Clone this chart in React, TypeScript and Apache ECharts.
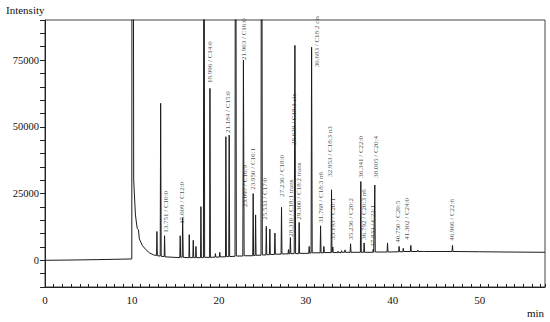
import { useEffect, useRef } from "react";
import * as echarts from "echarts";

// Chromatogram trace: [retention time (min), intensity]
const trace: [number, number][] = [
  [0, 0], [3, 100], [6, 250], [9.98, 500],
  [10.05, 400000], [10.2, 30000], [10.4, 17000], [10.6, 12000], [10.75, 11400], [10.85, 8000],
  [11.2, 5500], [11.6, 4000], [12.0, 2800], [12.5, 2000],
  [12.83, 1800], [12.87, 10800], [12.92, 1700],
  [13.25, 1600], [13.3, 58800], [13.36, 1500],
  [13.71, 1400], [13.75, 9200], [13.8, 1300],
  [15.5, 1000], [15.55, 9200], [15.6, 1200], [15.78, 1200], [15.83, 15800], [15.9, 1100],
  [16.55, 1000], [16.59, 9600], [16.64, 1000],
  [17.0, 1000], [17.05, 7500], [17.1, 1000],
  [17.32, 1000], [17.36, 5200], [17.41, 1000],
  [17.89, 1000], [17.93, 20100], [17.98, 1000],
  [18.22, 1000], [18.28, 200000], [18.36, 1100],
  [18.93, 1100], [18.97, 64400], [19.02, 1100],
  [19.55, 1200], [19.6, 2500], [19.65, 1200],
  [20.05, 1200], [20.1, 3000], [20.15, 1300],
  [20.76, 1300], [20.8, 46300], [20.86, 1400],
  [21.13, 1400], [21.18, 46900], [21.24, 1400],
  [21.85, 1500], [21.92, 250000], [22.0, 1600],
  [22.75, 1600], [22.82, 75000], [22.9, 1700],
  [23.89, 1700], [23.94, 25000], [23.99, 1800],
  [24.17, 1800], [24.22, 17000], [24.27, 1900],
  [24.84, 1900], [24.91, 250000], [24.99, 2000],
  [25.4, 2000], [25.45, 12700], [25.5, 2100],
  [25.81, 2100], [25.86, 11700], [25.91, 2200],
  [26.39, 2200], [26.44, 10200], [26.49, 2300],
  [27.15, 2300], [27.2, 19900], [27.25, 2400],
  [27.95, 2400], [28.0, 4000], [28.05, 2400],
  [28.16, 2400], [28.22, 8500], [28.27, 2500],
  [28.66, 2500], [28.74, 80500], [28.82, 2500],
  [29.18, 2500], [29.23, 14200], [29.28, 2600],
  [30.33, 2600], [30.38, 5200], [30.43, 2700],
  [30.6, 2700], [30.66, 79800], [30.73, 2800],
  [31.64, 2800], [31.69, 12900], [31.74, 2800],
  [32.02, 2800], [32.07, 5200], [32.12, 2900],
  [32.9, 2900], [32.95, 26400], [33.0, 2900],
  [33.06, 2900], [33.1, 5000], [33.15, 2900],
  [33.65, 2900], [33.7, 3400], [33.75, 2900],
  [34.05, 2900], [34.1, 3600], [34.15, 3000],
  [34.45, 3000], [34.5, 3900], [34.55, 3000],
  [35.09, 3000], [35.14, 6200], [35.19, 3000],
  [36.27, 3000], [36.32, 29500], [36.37, 3000],
  [36.65, 3000], [36.7, 6500], [36.75, 3000],
  [37.7, 3000], [37.75, 4200], [37.8, 3000],
  [37.88, 3000], [37.93, 28200], [37.98, 3100],
  [39.34, 3100], [39.39, 6500], [39.44, 3100],
  [40.67, 3200], [40.72, 5200], [40.77, 3200],
  [41.15, 3200], [41.2, 4500], [41.25, 3300],
  [42.02, 3300], [42.07, 5600], [42.12, 3300],
  [42.82, 3300], [42.87, 3800], [42.92, 3300],
  [43.51, 3300], [43.56, 3500], [43.61, 3300],
  [46.81, 3300], [46.86, 5600], [46.91, 3300],
  [50, 3200], [53, 3100], [57.5, 3000],
];

// Peak annotations: text, anchor time (min), anchor intensity (bottom of the text)
const labelText = [
  "13.751 / C10:0", "15.609 / C12:0", "18.996 / C14:0", "21.184 / C15:0",
  "21.903 / C16:0", "23.097 / C16:9", "23.950 / C16:1", "25.533 / C17:0",
  "27.236 / C18:0", "28.310 / C18:1 trans", "28.639 / C18:1 cis", "29.300 / C18:2 trans",
  "30.683 / C18:2 cis", "31.768 / C18:3 n6", "32.953 / C18:3 n3", "33.193 / C20:1",
  "35.236 / C20:2", "36.341 / C22:0", "36.792 / C20:3 n6", "37.833 / C22:1",
  "38.005 / C20:4", "40.750 / C20:5", "41.302 / C24:0", "46.966 / C22:6",
];
const labelTime = [
  13.91, 15.71, 18.97, 21.07,
  22.87, 22.99, 23.94, 25.29,
  27.21, 28.24, 28.68, 29.23,
  31.23, 31.69, 32.76, 33.07,
  35.14, 36.32, 36.67, 37.67,
  38.05, 40.61, 41.64, 46.75,
];
const labelIntensity = [
  10300, 13700, 66400, 47700,
  75000, 20000, 26400, 15200,
  23800, 8800, 43200, 15200,
  72300, 14100, 31300, 7700,
  7700, 30900, 7700, 5100,
  30900, 6600, 7700, 7300,
];

const xTickLabels = [0, 10, 20, 30, 40, 50];
const yTickLabels = [0, 25000, 50000, 75000];

const FONT = "Liberation Serif";

export default function App() {
  const ref = useRef<HTMLDivElement>(null);
  useEffect(() => {
    if (!ref.current) return;
    const chart = echarts.init(ref.current, undefined, { renderer: "svg" });
    chart.setOption({
      animation: false,
      backgroundColor: "#ffffff",
      grid: {
        left: 45, right: 5, top: 20, bottom: 35,
        show: true, borderColor: "#444", borderWidth: 1, backgroundColor: "transparent",
      },
      xAxis: {
        type: "value", min: 0, max: 57.5, interval: 1,
        axisLine: { onZero: false, lineStyle: { color: "#222", width: 1 } },
        axisTick: { inside: true, length: 3, lineStyle: { color: "#222" } },
        axisLabel: {
          margin: 7, color: "#111", fontFamily: FONT, fontSize: 11,
          formatter: (v: number) => (xTickLabels.includes(Math.round(v * 1000) / 1000) ? String(v) : ""),
        },
        splitLine: { show: false },
      },
      yAxis: {
        type: "value", min: -10000, max: 90000, interval: 5000,
        axisLine: { show: true, lineStyle: { color: "#222", width: 1 } },
        axisTick: { show: true, inside: false, length: 5, lineStyle: { color: "#222" } },
        axisLabel: {
          margin: 6, color: "#111", fontFamily: FONT, fontSize: 10.5,
          formatter: (v: number) => (yTickLabels.includes(v) ? String(v) : ""),
        },
        splitLine: { show: false },
      },
      graphic: [
        { type: "text", left: 6, top: 4, style: { text: "Intensity", font: `11px "${FONT}"`, fill: "#111" } },
        { type: "text", left: 527, top: 307, style: { text: "min", font: `11px "${FONT}"`, fill: "#111" } },
      ],
      series: [
        {
          type: "line", data: trace, showSymbol: false, symbol: "none", clip: true, silent: true,
          lineStyle: { color: "#1c1c1c", width: 1 },
        },
        {
          type: "scatter", symbolSize: 0, silent: true, clip: false,
          data: labelText.map((t, i) => ({ name: t, value: [labelTime[i], labelIntensity[i]] })),
          label: {
            show: true, position: "inside", rotate: 90, align: "left", verticalAlign: "middle",
            formatter: "{b}", fontFamily: FONT, fontSize: 7, color: "#222",
          },
        },
      ],
    });
    return () => chart.dispose();
  }, []);
  return <div ref={ref} style={{ position: "fixed", left: 0, top: 0, width: 550, height: 322 }} />;
}
